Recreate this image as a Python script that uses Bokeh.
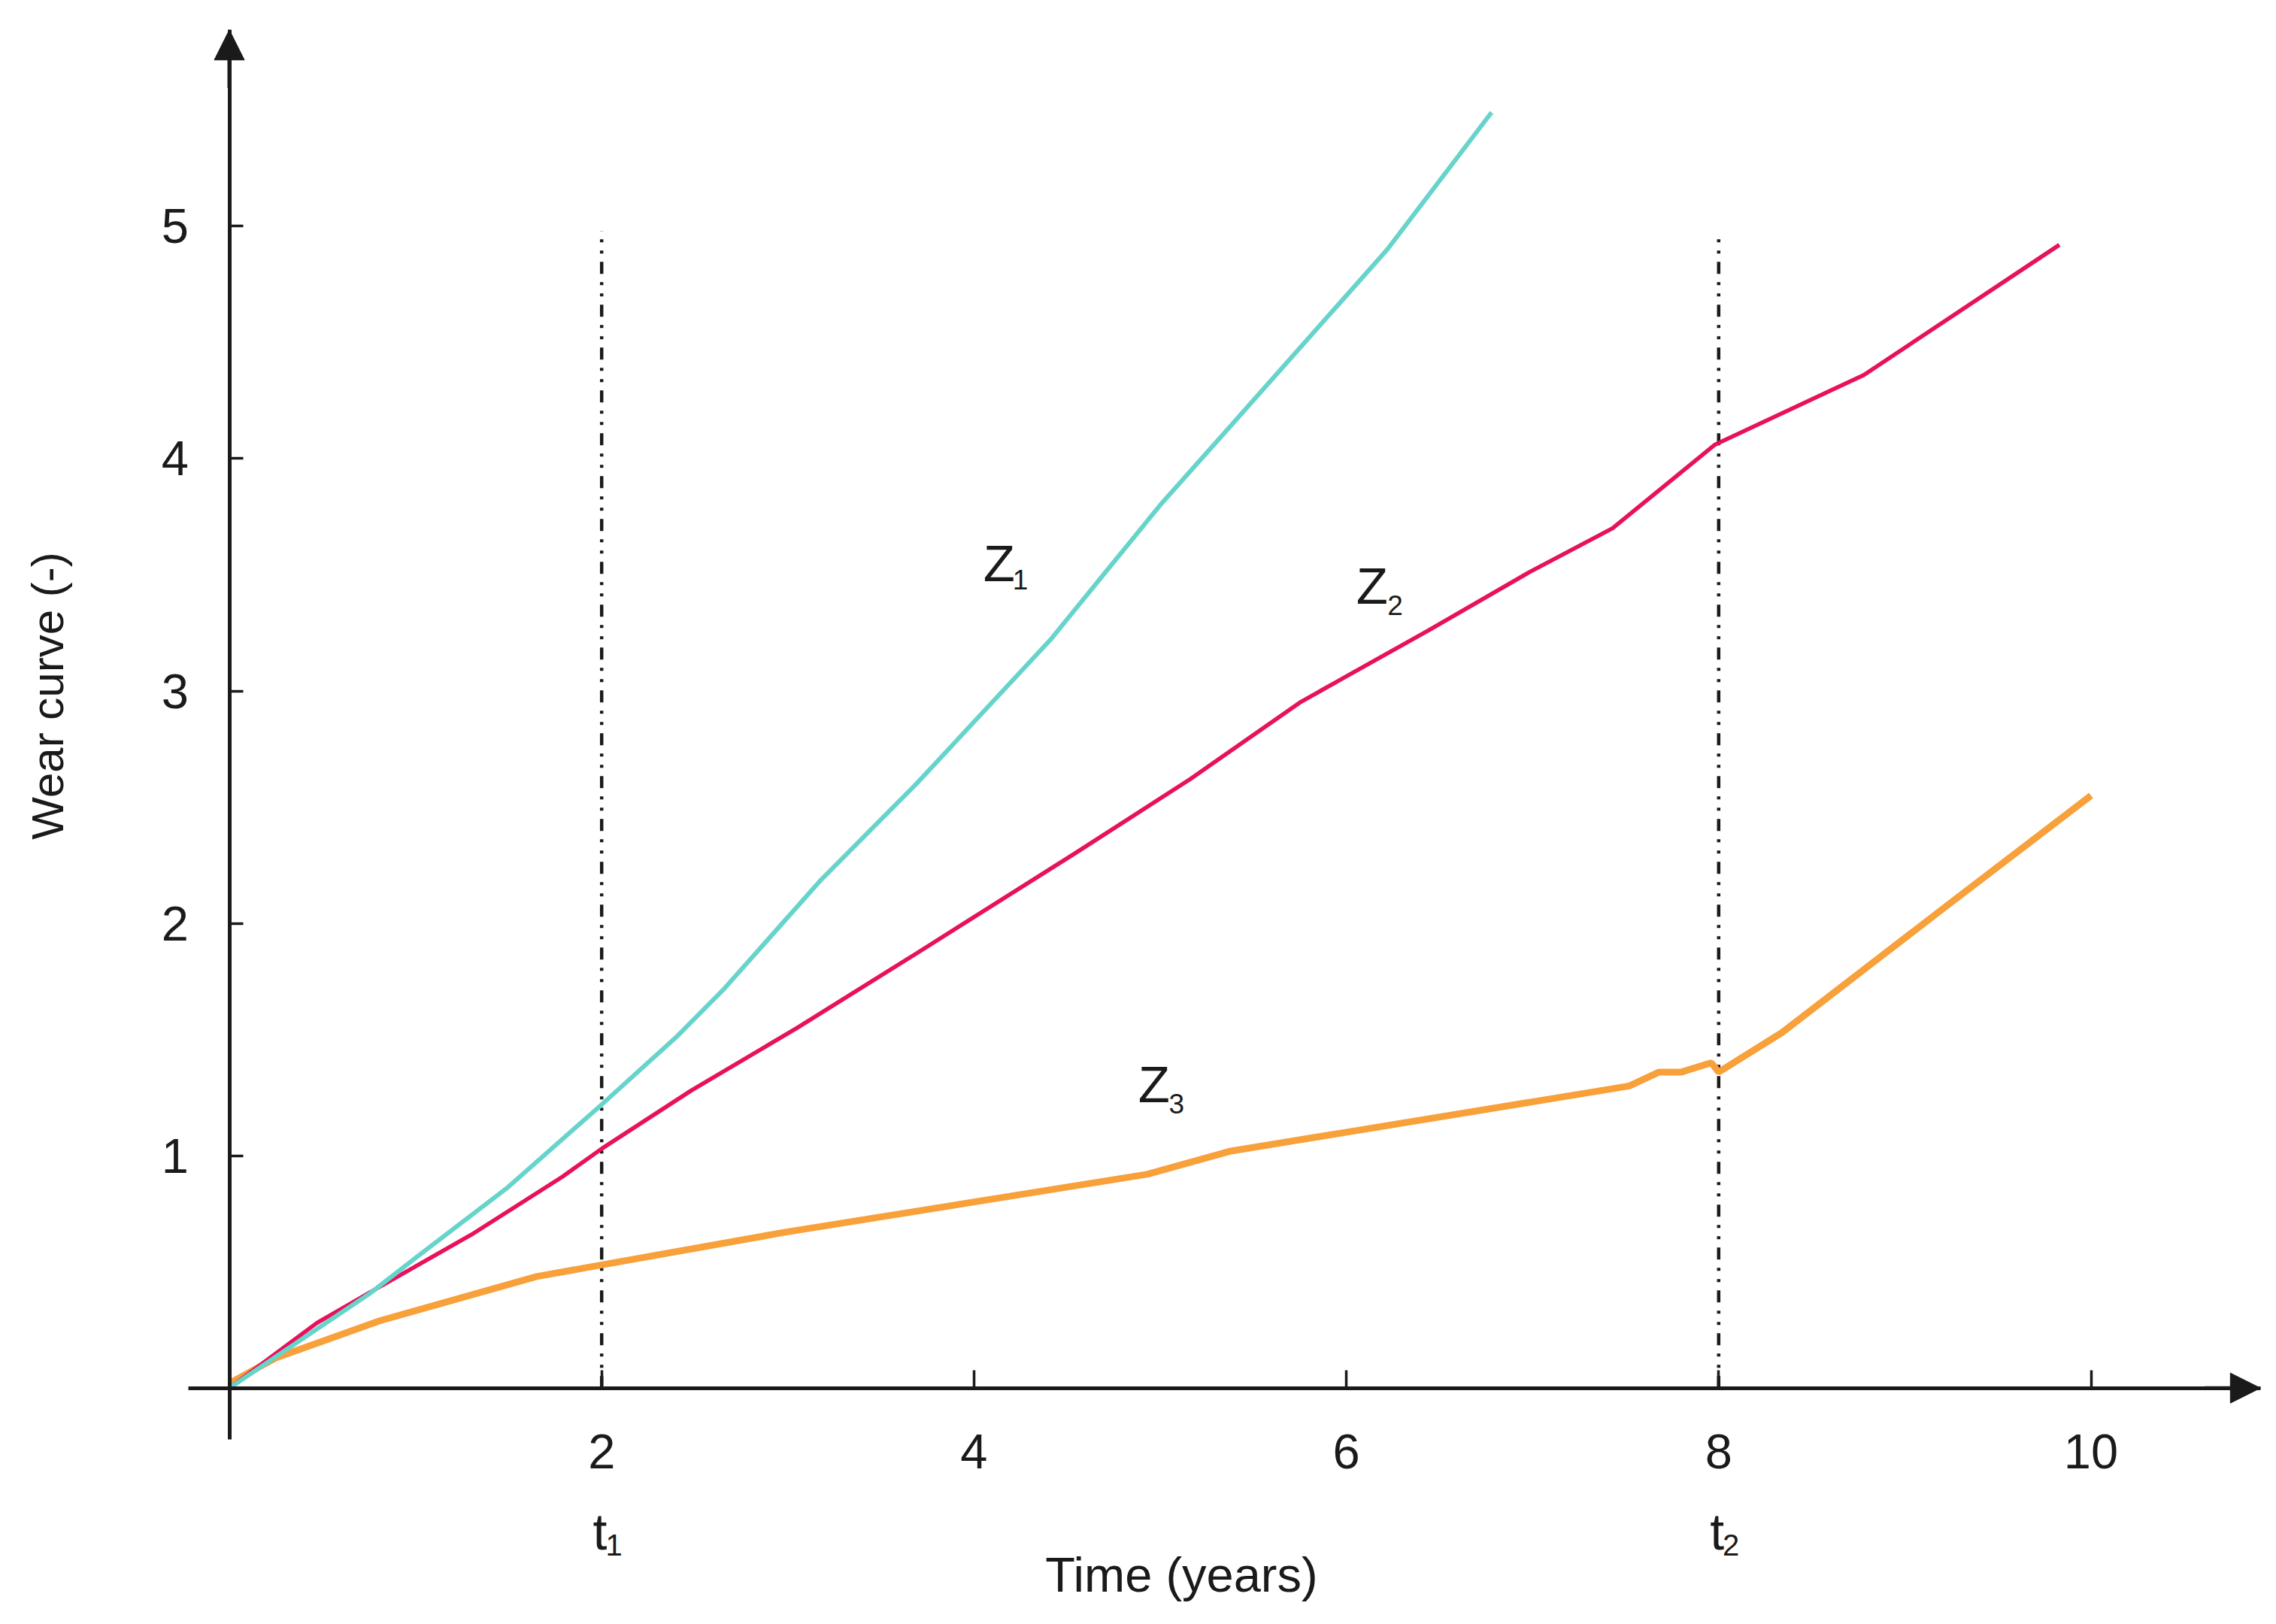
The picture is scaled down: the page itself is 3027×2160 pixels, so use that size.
import math
from bokeh.plotting import figure
from bokeh.models import Range1d, FixedTicker, Label, Arrow, NormalHead
from bokeh.embed import file_html
from bokeh.resources import INLINE

# ---------------- data ----------------
z1_x = [0, 0.5, 0.76, 1.0, 1.49, 2.0, 2.40, 2.66, 3.17, 3.69, 4.41, 5.0, 5.4, 6.22, 6.78]
z1_y = [0, 0.27, 0.41, 0.56, 0.86, 1.22, 1.51, 1.72, 2.18, 2.60, 3.22, 3.80, 4.16, 4.90, 5.49]

z2_x = [0, 0.47, 0.86, 1.30, 1.79, 2.0, 2.48, 3.05, 3.69, 4.54, 5.16, 5.75, 5.86, 6.44, 6.98, 7.43, 7.98, 8.78, 9.83]
z2_y = [0, 0.28, 0.46, 0.66, 0.91, 1.03, 1.28, 1.55, 1.87, 2.30, 2.62, 2.95, 3.00, 3.26, 3.51, 3.70, 4.06, 4.36, 4.92]

z3_x = [0, 0.25, 0.81, 1.65, 2.0, 2.98, 4.93, 5.38, 7.52, 7.68, 7.80, 7.96, 8.0, 8.34, 9.2, 10.0]
z3_y = [0.02, 0.13, 0.29, 0.48, 0.53, 0.67, 0.92, 1.02, 1.30, 1.36, 1.36, 1.40, 1.36, 1.53, 2.06, 2.55]

x_ticks = [2, 4, 6, 8, 10]
y_ticks = [1, 2, 3, 4, 5]
t_marks = [2, 8]            # t1, t2
t_tops = [4.98, 4.95]
t_names = ["1", "2"]

INK = "#1a1a1a"
CYAN = "#67d4cc"
RED = "#e8115b"
ORANGE = "#f8a03a"
FONT = "Liberation Sans"

# ---------------- layout (frame fills the whole figure) ----------------
W, H = 3016, 2150
PAGE = 0
OX, OY = 304.5, 1845.7      # page position of the origin
SX, SY = 247.6, 309.06      # pixels per unit
x_lo, x_hi = (PAGE - OX) / SX, (PAGE + W - OX) / SX
y_hi, y_lo = (OY - PAGE) / SY, (OY - PAGE - H) / SY

p = figure(width=W, height=H,
           x_range=Range1d(x_lo, x_hi), y_range=Range1d(y_lo, y_hi),
           output_backend="svg", toolbar_location=None,
           min_border_left=0, min_border_right=0,
           min_border_top=0, min_border_bottom=0)
p.grid.visible = False
p.outline_line_color = None
p.background_fill_color = "white"
p.border_fill_color = "white"

AX_X_END = 10.91
AX_Y_END = 5.845
p.xaxis.fixed_location = 0
p.yaxis.fixed_location = 0
p.xaxis.bounds = (-0.22, AX_X_END)
p.yaxis.bounds = (-0.22, AX_Y_END)
p.xaxis.ticker = FixedTicker(ticks=x_ticks)
p.yaxis.ticker = FixedTicker(ticks=y_ticks)
p.axis.axis_line_width = 5
p.axis.axis_line_color = INK
p.axis.major_tick_line_width = 3.5
p.axis.major_tick_line_color = INK
p.axis.major_tick_out = 0
p.xaxis.major_tick_in = 24
p.yaxis.major_tick_in = 18
p.axis.minor_tick_line_color = None
p.axis.major_label_text_font = FONT
p.axis.major_label_text_font_size = "65px"
p.axis.major_label_text_color = INK
p.xaxis.major_label_standoff = 62
p.yaxis.major_label_standoff = 54

# dash-dot reference lines at t1, t2
p.segment(x0=t_marks, y0=[0] * len(t_marks), x1=t_marks, y1=t_tops,
          line_color=INK, line_width=4.5, line_dash="16 11 4 11 4 11")

# curves
p.line(z3_x, z3_y, line_color=ORANGE, line_width=9)
p.line(z2_x, z2_y, line_color=RED, line_width=5.5)
p.line(z1_x, z1_y, line_color=CYAN, line_width=6)

# axis arrows
p.add_layout(Arrow(end=NormalHead(size=40, fill_color=INK, line_color=INK, line_width=1),
                   x_start=AX_X_END - 0.3, y_start=0, x_end=AX_X_END, y_end=0,
                   line_color=INK, line_width=5))
p.add_layout(Arrow(end=NormalHead(size=40, fill_color=INK, line_color=INK, line_width=1),
                   x_start=0, y_start=AX_Y_END - 0.25, x_end=0, y_end=AX_Y_END,
                   line_color=INK, line_width=5))


def lab(x, y, text, size, **kw):
    p.add_layout(Label(x=x, y=y, text=text, text_font=FONT, text_font_size=size,
                       text_color=INK, text_align=kw.pop("align", "left"),
                       text_baseline="middle", **kw))


# curve names (Z with subscript)
lab(4.050, 3.550, "Z", "69px")
lab(4.207, 3.479, "1", "37px")
lab(6.053, 3.453, "Z", "69px")
lab(6.221, 3.369, "2", "37px")
lab(4.882, 1.305, "Z", "69px")
lab(5.046, 1.225, "3", "37px")

# t1, t2 marks under the axis
for tx, tn in zip(t_marks, t_names):
    lab(tx - 0.047, -0.617, "t", "68px")
    lab(tx + 0.021, -0.676, tn, "40px")

# axis titles
lab(5.115, -0.803, "Time (years)", "65px", align="center")
lab(-0.975, 2.979, "Wear curve (-)", "60px", align="center", angle=math.pi / 2)

open("out.html", "w").write(file_html(p, INLINE))
